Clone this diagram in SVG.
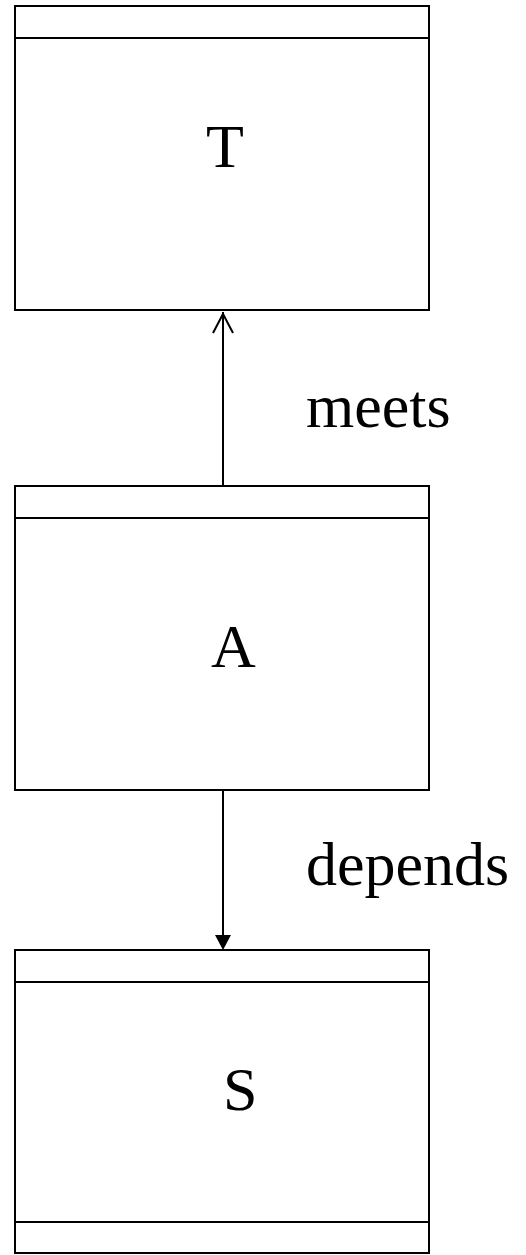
<svg xmlns="http://www.w3.org/2000/svg" width="526" height="1255" viewBox="0 0 526 1255">
<style>
.box{fill:#fff;stroke:#000;stroke-width:2}
.ln{stroke:#000;stroke-width:2;fill:none}
.t{font-family:"Liberation Serif","Times New Roman",serif;font-size:62px;fill:#000}
</style>
<rect width="526" height="1255" fill="#fff"/>
<g id="node-T">
<rect class="box" x="15" y="6" width="414" height="304"/>
<line class="ln" x1="15" y1="38" x2="429" y2="38"/>
<text class="t" x="206" y="167">T</text>
</g>
<g id="node-A">
<rect class="box" x="15" y="486" width="414" height="304"/>
<line class="ln" x1="15" y1="518" x2="429" y2="518"/>
<text class="t" x="211" y="667">A</text>
</g>
<g id="node-S">
<rect class="box" x="15" y="950" width="414" height="303"/>
<line class="ln" x1="15" y1="982" x2="429" y2="982"/>
<line class="ln" x1="15" y1="1222" x2="429" y2="1222"/>
<text class="t" x="223" y="1110">S</text>
</g>
<g id="connectors">
<line class="ln" x1="223" y1="486" x2="223" y2="312"/>
<polyline class="ln" points="213,333 223,314 233,333"/>
<line class="ln" x1="223" y1="790" x2="223" y2="936"/>
<polygon points="215,935 231,935 223,950" fill="#000"/>
<text class="t" x="306" y="427">meets</text>
<text class="t" x="306" y="885">depends</text>
</g>
</svg>
